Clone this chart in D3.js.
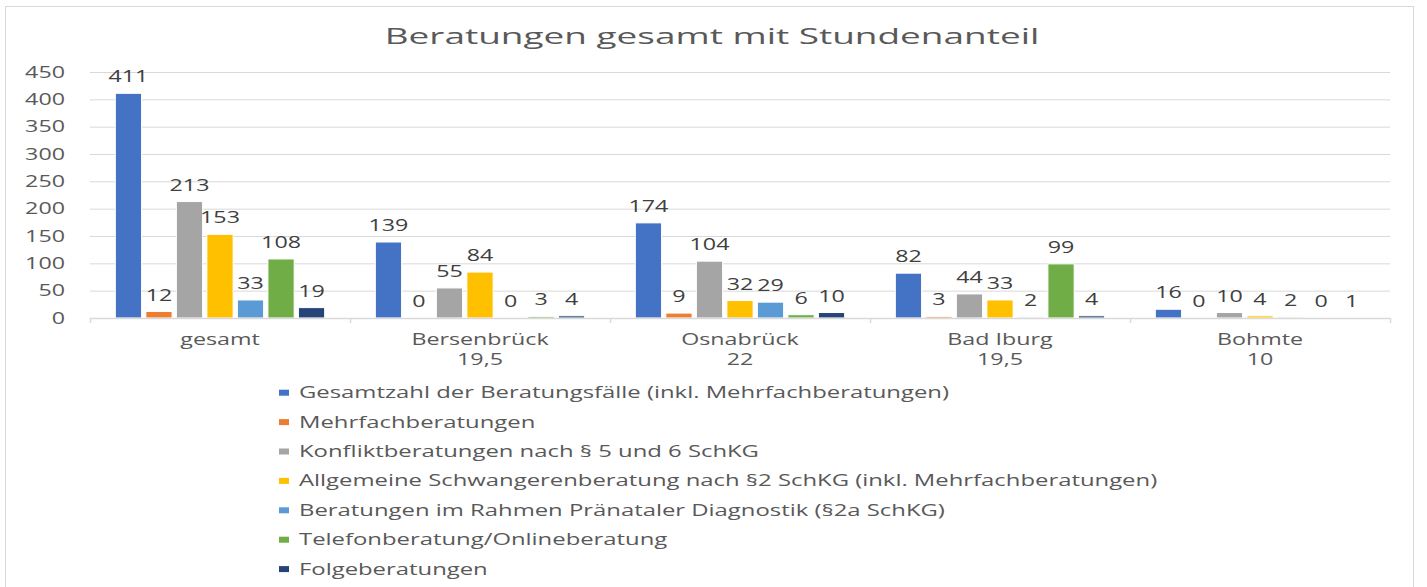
<!DOCTYPE html>
<html lang="de">
<head>
<meta charset="UTF-8">
<title>Beratungen gesamt mit Stundenanteil</title>
<script src="https://d3js.org/d3.v7.min.js"></script>
<style>
    body { margin: 0; background: #fff; }
    svg { display: block; font-family: "Open Sans", sans-serif; }
</style>
</head>
<body>
<div id="chart"></div>
<script>
// categories (Beratungsstelle + Stundenanteil)
const categories = ["gesamt", "Bersenbrück", "Osnabrück", "Bad Iburg", "Bohmte"];
const hours = ["", "19,5", "22", "19,5", "10"];

const seriesNames = [
    "Gesamtzahl der Beratungsfälle (inkl. Mehrfachberatungen)",
    "Mehrfachberatungen",
    "Konfliktberatungen nach § 5 und 6 SchKG",
    "Allgemeine Schwangerenberatung nach §2 SchKG (inkl. Mehrfachberatungen)",
    "Beratungen im Rahmen Pränataler Diagnostik (§2a SchKG)",
    "Telefonberatung/Onlineberatung",
    "Folgeberatungen"
];

// values per series, in category order
const gesamtzahl = [411, 139, 174, 82, 16];
const mehrfach = [12, 0, 9, 3, 0];
const konflikt = [213, 55, 104, 44, 10];
const allgemein = [153, 84, 32, 33, 4];
const praenatal = [33, 0, 29, 2, 2];
const telefon = [108, 3, 6, 99, 0];
const folge = [19, 4, 10, 4, 1];
const seriesValues = [gesamtzahl, mehrfach, konflikt, allgemein, praenatal, telefon, folge];

const yTicks = [0, 50, 100, 150, 200, 250, 300, 350, 400, 450];

const colors = ["#4472C4", "#ED7D31", "#A5A5A5", "#FFC000", "#5B9BD5", "#70AD47", "#264478"];

const width = 1427, height = 587;
const SX = 1.5; // the reference text is drawn wide
const textColor = "#595959";

const svg = d3.select("#chart").append("svg")
    .attr("width", width)
    .attr("height", height);

// chart frame
svg.append("rect")
    .attr("x", 5.5).attr("y", 6.5)
    .attr("width", 1408).attr("height", 620)
    .attr("fill", "#fff")
    .attr("stroke", "#d9d9d9");

function place(sel, x, y, sx) {
    return sel.attr("transform", `translate(${x},${y}) scale(${sx || SX},1)`);
}

// title
place(svg.append("text"), 712, 44, 1.68)
    .attr("text-anchor", "middle")
    .attr("font-size", 22)
    .attr("fill", textColor)
    .text("Beratungen gesamt mit Stundenanteil");

const plot = { left: 90, right: 1390, top: 72, bottom: 318 };

const x0 = d3.scaleBand()
    .domain(categories)
    .range([plot.left, plot.right]);

const x1 = d3.scaleBand()
    .domain(d3.range(seriesNames.length))
    .range([0, x0.bandwidth()])
    .paddingInner(0.14)
    .paddingOuter(0.83);

const y = d3.scaleLinear()
    .domain([0, 450])
    .range([plot.bottom, plot.top]);

// gridlines
svg.append("g")
    .selectAll("line")
    .data(yTicks.filter(d => d > 0))
    .enter().append("line")
    .attr("x1", plot.left).attr("x2", plot.right)
    .attr("y1", d => y(d) + 0.5).attr("y2", d => y(d) + 0.5)
    .attr("stroke", "#d9d9d9")
    .attr("stroke-width", 1);

// y labels
svg.append("g")
    .selectAll("text")
    .data(yTicks)
    .enter().append("text")
    .each(function(d) { place(d3.select(this), 65, y(d)); })
    .attr("text-anchor", "end")
    .attr("dy", "0.36em")
    .attr("font-size", 15.5)
    .attr("fill", textColor)
    .text(d => d);

// bars
const groups = svg.append("g")
    .selectAll("g")
    .data(categories)
    .enter().append("g")
    .attr("transform", d => `translate(${x0(d)},0)`);

groups.selectAll("rect")
    .data((c, ci) => seriesValues.map((vals, si) => ({ si, v: vals[ci] })))
    .enter().append("rect")
    .attr("x", d => x1(d.si))
    .attr("width", x1.bandwidth())
    .attr("y", d => y(d.v))
    .attr("height", d => y(0) - y(d.v))
    .attr("fill", d => colors[d.si])
    .attr("stroke", "#fff")
    .attr("stroke-width", 1);

// data labels
groups.selectAll("text")
    .data((c, ci) => seriesValues.map((vals, si) => ({ si, v: vals[ci] })))
    .enter().append("text")
    .each(function(d) { place(d3.select(this), x1(d.si) + x1.bandwidth() / 2, y(d.v) - 16.5); })
    .attr("text-anchor", "middle")
    .attr("dy", "0.36em")
    .attr("font-size", 15.5)
    .attr("fill", "#404040")
    .text(d => d.v);

// x axis line + ticks
svg.append("line")
    .attr("x1", plot.left).attr("x2", plot.right)
    .attr("y1", plot.bottom + 0.5).attr("y2", plot.bottom + 0.5)
    .attr("stroke", "#d9d9d9")
    .attr("stroke-width", 1.5);

svg.append("g")
    .selectAll("line")
    .data(categories.map(c => x0(c)).concat([plot.right]))
    .enter().append("line")
    .attr("x1", d => d + 0.5).attr("x2", d => d + 0.5)
    .attr("y1", plot.bottom).attr("y2", plot.bottom + 5)
    .attr("stroke", "#d9d9d9")
    .attr("stroke-width", 1.5);

// category labels (two lines)
categories.forEach((c, i) => {
    const cx = x0(c) + x0.bandwidth() / 2;
    place(svg.append("text"), cx, 339)
        .attr("text-anchor", "middle").attr("dy", "0.36em")
        .attr("font-size", 15.5).attr("fill", textColor)
        .text(c);
    if (hours[i]) {
        place(svg.append("text"), cx, 359)
            .attr("text-anchor", "middle").attr("dy", "0.36em")
            .attr("font-size", 15.5).attr("fill", textColor)
            .text(hours[i]);
    }
});

// legend
const legend = svg.append("g")
    .selectAll("g")
    .data(seriesNames)
    .enter().append("g")
    .attr("transform", (d, i) => `translate(279,${392.7 + i * 29.4})`);

legend.append("rect")
    .attr("x", 0).attr("y", -3)
    .attr("width", 10).attr("height", 6)
    .attr("fill", (d, i) => colors[i]);

legend.append("text")
    .attr("transform", "translate(20,0) scale(1.54,1)")
    .attr("dy", "0.36em")
    .attr("font-size", 15.5)
    .attr("fill", textColor)
    .text(d => d);
</script>
</body>
</html>
